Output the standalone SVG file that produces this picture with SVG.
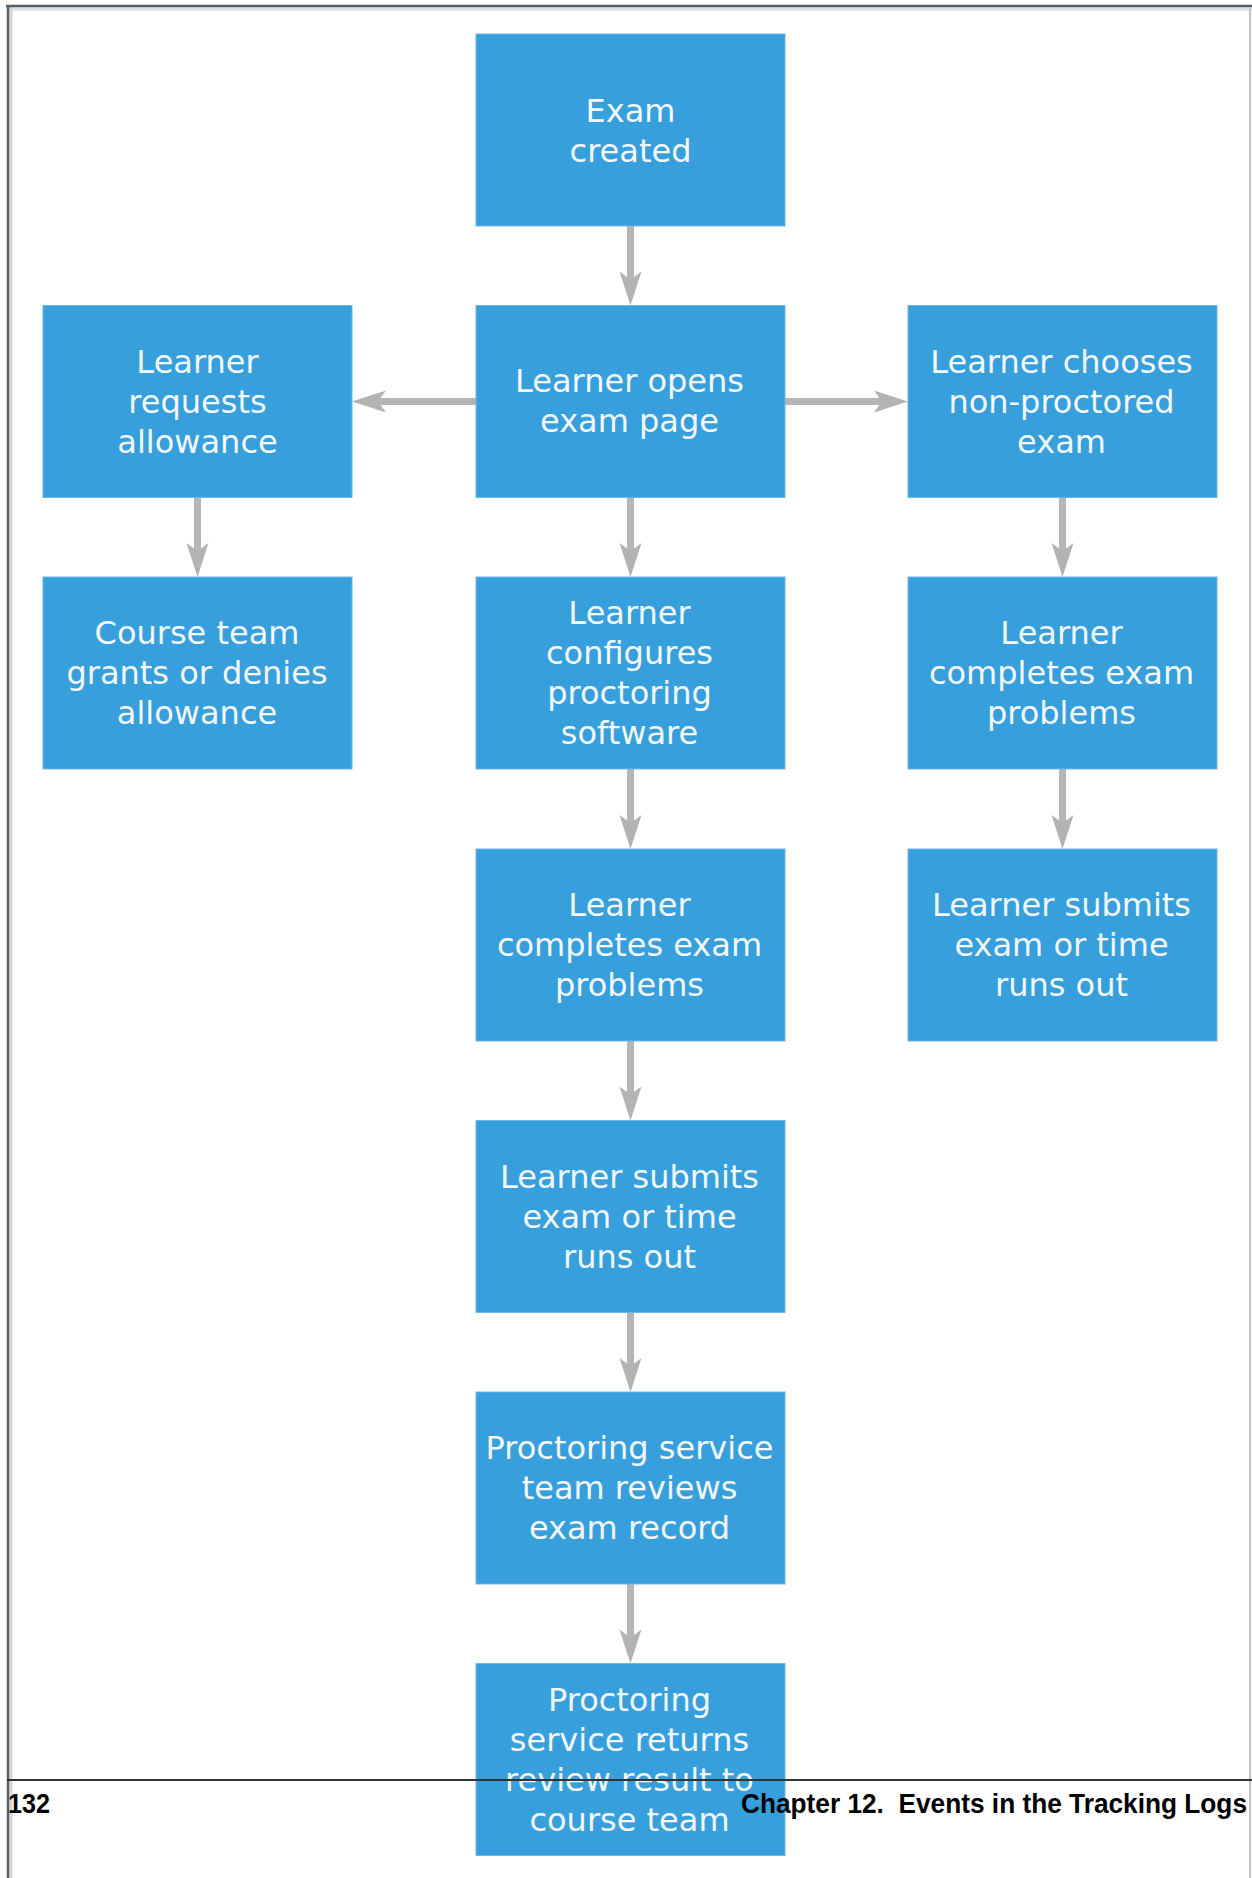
<svg xmlns="http://www.w3.org/2000/svg" width="1252" height="1878" viewBox="0 0 1252 1878">
  <defs>
    <marker id="arrow" viewBox="-36 -12 36 24" refX="-20" refY="0" markerWidth="36" markerHeight="24" markerUnits="userSpaceOnUse" orient="auto">
      <path d="M0,0 L-34,-11 L-26,0 L-34,11 Z" fill="#b3b3b3"/>
    </marker>
    <style>
      .box { fill: #379fdc; stroke: #6db7e6; stroke-width: 1; }
      .lbl { font-family: "DejaVu Sans", Verdana, sans-serif; font-size: 32px; fill: #f2f8fc; text-anchor: middle; }
      .conn { stroke: #b5b5b5; stroke-width: 7; fill: none; marker-end: url(#arrow); }
      .foot { font-family: "Liberation Sans", Arial, sans-serif; font-size: 28px; font-weight: bold; fill: #000000; }
    </style>
  </defs>

  <rect x="0" y="0" width="1252" height="1878" fill="#ffffff"/>

  <!-- page frame -->
  <g id="frame">
    <line x1="7" y1="9" x2="1252" y2="9" stroke="#dcdcdc" stroke-width="3"/>
    <line x1="11" y1="7" x2="11" y2="1878" stroke="#d6d6d6" stroke-width="3"/>
    <line x1="6" y1="6" x2="1252" y2="6" stroke="#566068" stroke-width="2.5"/>
    <line x1="8" y1="5" x2="8" y2="1878" stroke="#566068" stroke-width="2.5"/>
    <line x1="1250" y1="8" x2="1250" y2="1878" stroke="#c4c4c4" stroke-width="2"/>
  </g>

  <!-- connectors -->
  <g id="connectors">
    <line class="conn" x1="630.5" y1="226" x2="630.5" y2="285.5"/>
    <line class="conn" x1="476" y1="401.5" x2="372" y2="401.5"/>
    <line class="conn" x1="785" y1="401.5" x2="888" y2="401.5"/>
    <line class="conn" x1="197.5" y1="497.5" x2="197.5" y2="557"/>
    <line class="conn" x1="630.5" y1="497.5" x2="630.5" y2="557"/>
    <line class="conn" x1="1062.5" y1="497.5" x2="1062.5" y2="557"/>
    <line class="conn" x1="630.5" y1="769" x2="630.5" y2="829"/>
    <line class="conn" x1="1062.5" y1="769" x2="1062.5" y2="829"/>
    <line class="conn" x1="630.5" y1="1041" x2="630.5" y2="1100.5"/>
    <line class="conn" x1="630.5" y1="1312.5" x2="630.5" y2="1372"/>
    <line class="conn" x1="630.5" y1="1584" x2="630.5" y2="1643.5"/>
  </g>

  <g id="exam-created">
    <rect class="box" x="476" y="34" width="309" height="192"/>
    <text class="lbl" x="630.5" y="122">Exam</text>
    <text class="lbl" x="630.5" y="162">created</text>
  </g>

  <g id="learner-opens">
    <rect class="box" x="476" y="305.5" width="309" height="192"/>
    <text class="lbl" x="629.5" y="391.5">Learner opens</text>
    <text class="lbl" x="629.5" y="431.5">exam page</text>
  </g>

  <g id="learner-requests-allowance">
    <rect class="box" x="43" y="305.5" width="309" height="192"/>
    <text class="lbl" x="197.5" y="372.5">Learner</text>
    <text class="lbl" x="197.5" y="412.5">requests</text>
    <text class="lbl" x="197.5" y="452.5">allowance</text>
  </g>

  <g id="learner-chooses-non-proctored">
    <rect class="box" x="908" y="305.5" width="309" height="192"/>
    <text class="lbl" x="1061.5" y="372.5">Learner chooses</text>
    <text class="lbl" x="1061.5" y="412.5">non-proctored</text>
    <text class="lbl" x="1061.5" y="452.5">exam</text>
  </g>

  <g id="course-team-grants">
    <rect class="box" x="43" y="577" width="309" height="192"/>
    <text class="lbl" x="197" y="644">Course team</text>
    <text class="lbl" x="197" y="684">grants or denies</text>
    <text class="lbl" x="197" y="724">allowance</text>
  </g>

  <g id="learner-configures">
    <rect class="box" x="476" y="577" width="309" height="192"/>
    <text class="lbl" x="629.5" y="624">Learner</text>
    <text class="lbl" x="629.5" y="664">configures</text>
    <text class="lbl" x="629.5" y="704">proctoring</text>
    <text class="lbl" x="629.5" y="744">software</text>
  </g>

  <g id="learner-completes-non-proctored">
    <rect class="box" x="908" y="577" width="309" height="192"/>
    <text class="lbl" x="1061.5" y="644">Learner</text>
    <text class="lbl" x="1061.5" y="684">completes exam</text>
    <text class="lbl" x="1061.5" y="724">problems</text>
  </g>

  <g id="learner-completes">
    <rect class="box" x="476" y="849" width="309" height="192"/>
    <text class="lbl" x="629.5" y="916">Learner</text>
    <text class="lbl" x="629.5" y="956">completes exam</text>
    <text class="lbl" x="629.5" y="996">problems</text>
  </g>

  <g id="learner-submits-non-proctored">
    <rect class="box" x="908" y="849" width="309" height="192"/>
    <text class="lbl" x="1061.5" y="916">Learner submits</text>
    <text class="lbl" x="1061.5" y="956">exam or time</text>
    <text class="lbl" x="1061.5" y="996">runs out</text>
  </g>

  <g id="learner-submits">
    <rect class="box" x="476" y="1120.5" width="309" height="192"/>
    <text class="lbl" x="629.5" y="1187.5">Learner submits</text>
    <text class="lbl" x="629.5" y="1227.5">exam or time</text>
    <text class="lbl" x="629.5" y="1267.5">runs out</text>
  </g>

  <g id="proctoring-team-reviews">
    <rect class="box" x="476" y="1392" width="309" height="192"/>
    <text class="lbl" x="629.5" y="1459">Proctoring service</text>
    <text class="lbl" x="629.5" y="1499">team reviews</text>
    <text class="lbl" x="629.5" y="1539">exam record</text>
  </g>

  <g id="proctoring-returns-result">
    <rect class="box" x="476" y="1663.5" width="309" height="192"/>
    <text class="lbl" x="629.5" y="1710.5">Proctoring</text>
    <text class="lbl" x="629.5" y="1750.5">service returns</text>
    <text class="lbl" x="629.5" y="1790.5">review result to</text>
    <text class="lbl" x="629.5" y="1830.5">course team</text>
  </g>

  <!-- page footer -->
  <g id="footer">
    <line x1="7" y1="1780" x2="1252" y2="1780" stroke="#333333" stroke-width="2"/>
    <text class="foot" x="8" y="1813" textLength="42" lengthAdjust="spacingAndGlyphs">132</text>
    <text class="foot" x="741" y="1813" textLength="506" lengthAdjust="spacingAndGlyphs" xml:space="preserve">Chapter 12.  Events in the Tracking Logs</text>
  </g>
</svg>
